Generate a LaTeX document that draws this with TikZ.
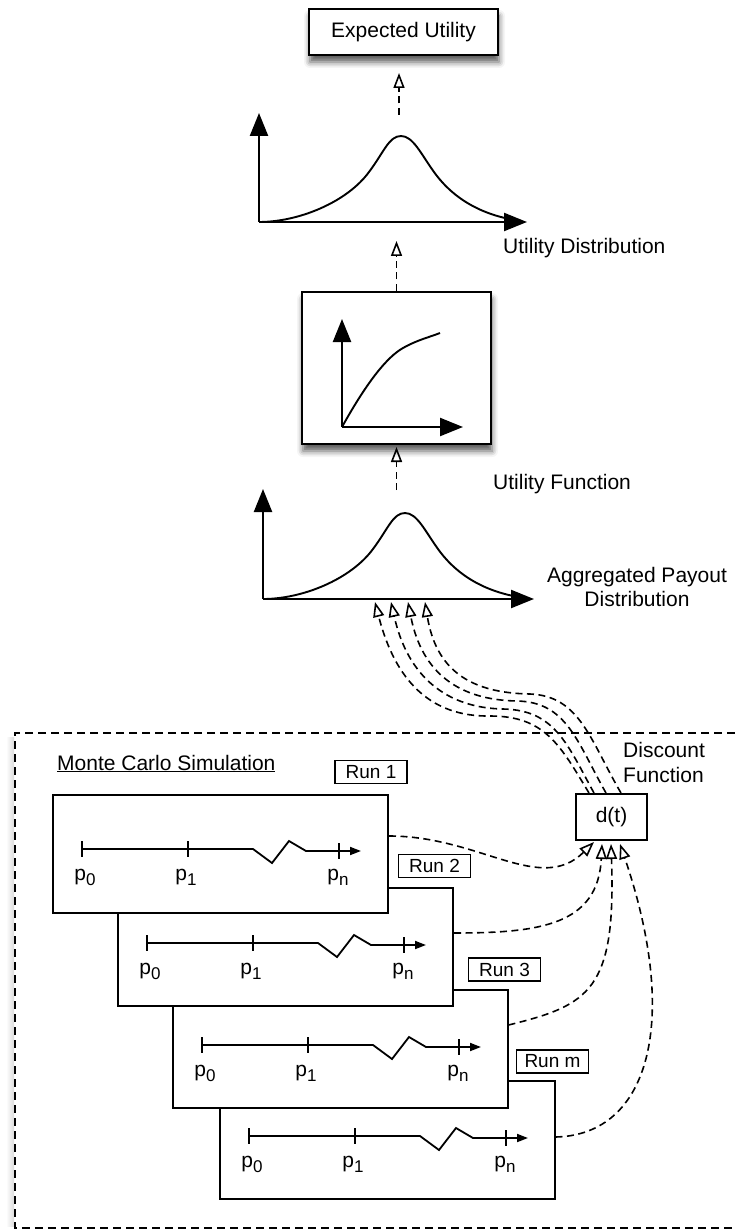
\documentclass[tikz,border=0pt]{standalone}
\usepackage{fontspec}
\setmainfont{Liberation Sans}
\usetikzlibrary{arrows.meta,shadows.blur}
\newcommand\psub[1]{\raisebox{-5pt}{\fontsize{17}{17}\selectfont #1}}
\tikzset{
  every node/.style={font=\fontsize{21}{25}\selectfont, inner sep=0pt},
  box/.style={draw, line width=2pt, fill=white},
  shbox/.style={box, blur shadow={shadow xshift=1pt, shadow yshift=-7pt, shadow blur radius=6pt, shadow opacity=65}},
  runlabel/.style={draw, line width=1.7pt, fill=white, minimum width=72pt, minimum height=23pt, font=\fontsize{19}{22}\selectfont},
  runbox/.style={box, minimum width=335pt, minimum height=118pt},
  axis/.style={line width=2.3pt, -{Triangle[length=23pt,width=18pt]}},
  curve/.style={line width=1.9pt},
  flow/.style={line width=1.6pt, dash pattern=on 7pt off 4.5pt, -{Triangle[open,length=15pt,width=11pt,line width=1.6pt]}},
  tl/.style={line width=1.8pt},
  lbl/.style={anchor=base west},
}
\newcommand\runline[3]{%
  \begin{scope}[shift={(#1,#2)}]
    \draw[tl,-{Triangle[length=11pt,width=8pt]}] (29,55) -- (200,55) -- (219,69) -- (236,47) -- (253,57) -- (308,57);
    \draw[tl] (29,47) -- (29,63) (135,47) -- (135,63) (286,49) -- (286,65);
    \node[anchor=base] (#3p0) at (32,86) {p\psub{0}};
    \node[anchor=base] (#3p1) at (133,86) {p\psub{1}};
    \node[anchor=base] (#3pn) at (285,86) {p\psub{n}};
  \end{scope}}
\newcommand\distcurve{(0,0) .. controls (40,0) and (88,-20) .. (110,-50) .. controls (125,-70) and (130,-86) .. (142,-86) .. controls (154,-86) and (162,-68) .. (175,-50) .. controls (195,-22) and (225,-6) .. (262,-1)}
\begin{document}
\begin{tikzpicture}[x=1pt,y=-1pt]
\useasboundingbox (0,0) rectangle (735,1230);

% Expected utility
\node[shbox, minimum width=189pt, minimum height=46pt] (eu) at (403.5,32) {Expected Utility};

% Utility distribution chart
\coordinate (udO) at (259,222);
\begin{scope}[shift={(udO)}]
  \draw[axis] (0,0) -- (0,-109);
  \draw[axis] (0,0) -- (268,0);
  \draw[curve] \distcurve;
\end{scope}
\node[lbl] (udl) at (503,254) {Utility Distribution};
\coordinate (udTop) at (399,115);
\coordinate (euIn) at (399,73);
\draw[flow] (udTop) -- (euIn);

% Utility function box
\node[shbox, minimum width=189pt, minimum height=152pt] (uf) at (396.5,368) {};
\begin{scope}[shift={(342,427)}]
  \draw[axis] (0,0) -- (0,-108);
  \draw[axis] (0,0) -- (121,0);
  \draw[curve] (0,0) .. controls (25,-45) and (45,-70) .. (61,-79) .. controls (75,-87) and (88,-90) .. (98,-94);
\end{scope}
\node[lbl] (ufl) at (493,489) {Utility Function};
\coordinate (udIn) at (396.5,241);
\draw[flow] (uf.north) -- (udIn);

% Aggregated payout chart
\coordinate (apO) at (263,599);
\begin{scope}[shift={(apO)}]
  \draw[axis] (0,0) -- (0,-110);
  \draw[axis] (0,0) -- (271,0);
  \draw[curve] \distcurve;
\end{scope}
\node[anchor=base] (apl1) at (637,582) {Aggregated Payout};
\node[anchor=base] (apl2) at (637,606) {Distribution};
\coordinate (apTop) at (396.5,490);
\coordinate (ufIn) at (396.5,447);
\draw[flow] (apTop) -- (ufIn);

% Monte Carlo frame
\shade[left color=white, right color=black!14] (6,737) rectangle (14,1226);
\draw[line width=1.6pt, dash pattern=on 8pt off 5pt] (735,733) -- (15,733) -- (15,1228) -- (735,1228);
\node[lbl] (mcl) at (57,770) {\underline{Monte Carlo Simulation}};

% runs (back to front)
\node[runbox] (rm) at (387,1139.5) {};
\runline{220}{1081}{rm}
\node[runbox] (r3) at (340,1049) {};
\runline{173}{990}{rthree}
\node[runbox] (r2) at (285.5,947) {};
\runline{118}{888}{rtwo}
\node[runbox] (r1) at (220.5,853.5) {};
\runline{53}{794}{rone}

\node[runlabel] (r1l) at (371,772) {Run 1};
\node[runlabel] (r2l) at (434.5,866) {Run 2};
\node[runlabel] (r3l) at (504.5,969.5) {Run 3};
\node[runlabel] (rml) at (552.5,1061.5) {Run m};

% discount function
\node[box, minimum width=71pt, minimum height=46pt] (dt) at (611.5,817) {d(t)};
\node[lbl] (dl1) at (623,757) {Discount};
\node[lbl] (dl2) at (623,782) {Function};

% runs -> d(t)
\draw[flow] ([yshift=17.5pt]r1.east) .. controls (480,836) and (540,895) .. ([xshift=19pt,yshift=-1pt]dt.south west);
\draw[flow] ([yshift=14pt]r2.east) .. controls (540,933) and (598,925) .. ([xshift=27pt,yshift=-3pt]dt.south west);
\draw[flow] ([yshift=24pt]r3.east) .. controls (590,1005) and (616,990) .. ([xshift=36pt,yshift=-3pt]dt.south west);
\draw[flow] ([yshift=2.5pt]rm.east) .. controls (650,1135) and (680,1020) .. ([xshift=45pt,yshift=-3pt]dt.south west);

% d(t) -> aggregated payout
\coordinate (ap1) at (375,602);
\coordinate (ap2) at (391,602);
\coordinate (ap3) at (408,602);
\coordinate (ap4) at (425,602);
\draw[flow] ([xshift=14pt]dt.north west) .. controls (560,745) and (545,716) .. (490,716) .. controls (430,717) and (395,680) .. (ap1);
\draw[flow] ([xshift=19pt]dt.north west) .. controls (567,744) and (555,710) .. (503,709) .. controls (448,708) and (408,678) .. (ap2);
\draw[flow] ([xshift=31pt]dt.north west) .. controls (577,742) and (567,702) .. (517,701) .. controls (460,700) and (422,674) .. (ap3);
\draw[flow] ([xshift=46pt]dt.north west) .. controls (590,740) and (580,696) .. (530,694) .. controls (470,693) and (436,670) .. (ap4);
\end{tikzpicture}
\end{document}
